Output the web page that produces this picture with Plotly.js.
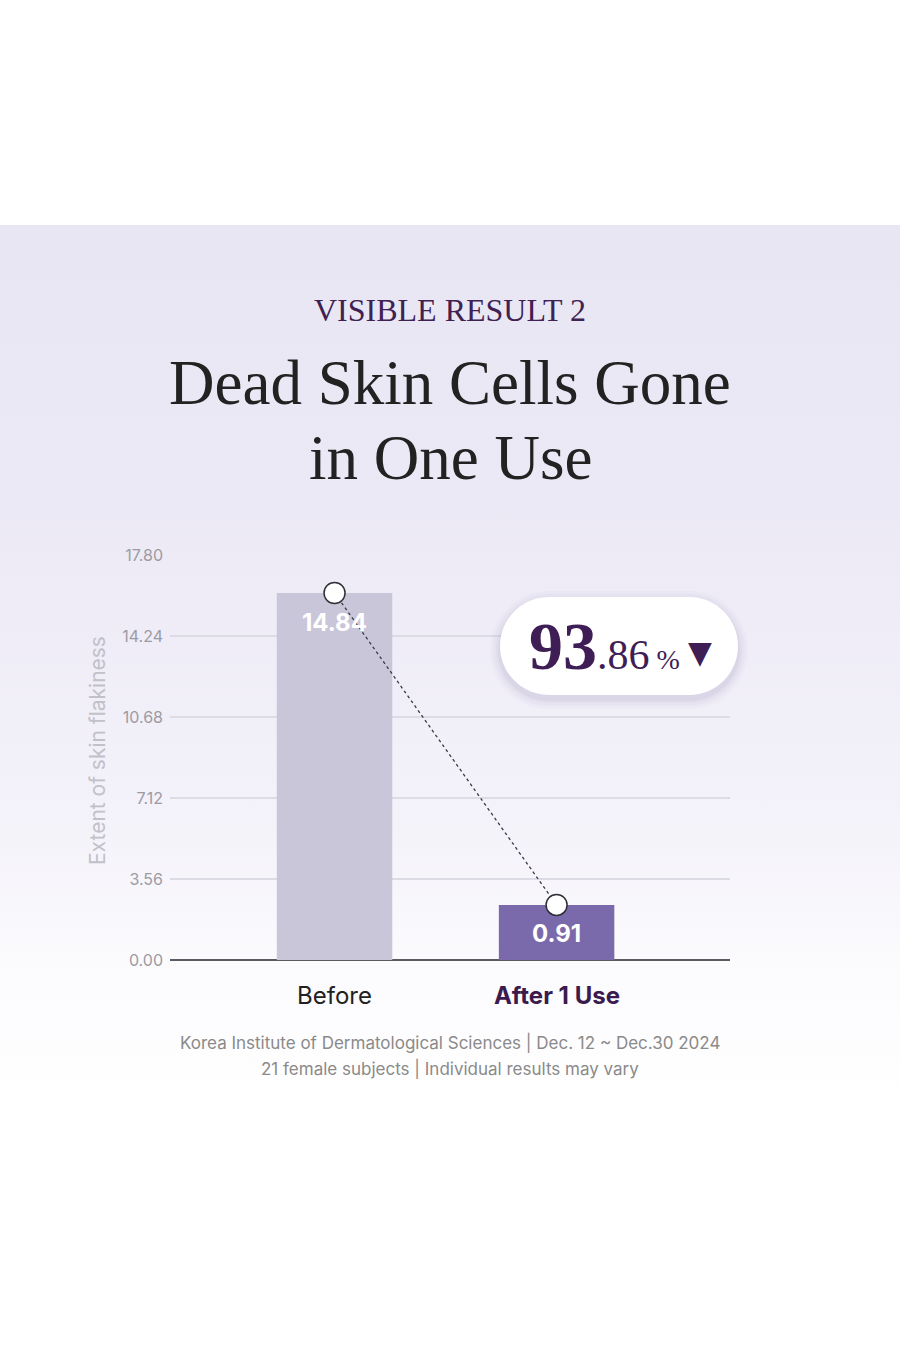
<!DOCTYPE html>
<html>
<head>
<meta charset="utf-8">
<script src="https://cdn.plot.ly/plotly-3.0.1.min.js"></script>
<style>
  html, body { margin: 0; padding: 0; }
  body {
    width: 900px; height: 1350px; overflow: hidden;
    background: linear-gradient(to bottom,
      #ffffff 0px, #ffffff 225px,
      #e9e6f4 225px, #ece9f6 500px, #f3f1f9 800px, #fbfafd 960px, #ffffff 1100px, #ffffff 1350px);
  }
  #chart { width: 900px; height: 1350px; }
</style>
</head>
<body>
<div id="chart"></div>
<script>
// ---- data ----
const categories = ["Before", "After 1 Use"];
const barHeights = [16.13, 2.42];          // bar heights as drawn in the picture
const valueLabels = ["14.84", "0.91"];     // values printed on the bars
const barColors = ["#c9c6da", "#7b6aab"];
const tickValues = [0, 3.56, 7.12, 10.68, 14.24, 17.80];
const tickLabels = ["0.00", "3.56", "7.12", "10.68", "14.24", "17.80"];
const reductionMain = "93";
const reductionDecimal = ".86";

// ---- layout helpers (plot area in px) ----
const W = 900, H = 1350;
const L = 170, R = 730, T = 555, B = 960;
const px2x = p => (p - L) / (R - L);
const px2y = p => (B - p) / (B - T);

function pillPath(x0, y0, x1, y1) {
  const r = (y1 - y0) / 2, k = 0.5523 * r;
  const P = (x, y) => px2x(x).toFixed(5) + "," + px2y(y).toFixed(5);
  let d = "M" + P(x0 + r, y0) + " L" + P(x1 - r, y0);
  d += " C" + P(x1 - r + k, y0) + " " + P(x1, y0 + r - k) + " " + P(x1, y0 + r);
  d += " C" + P(x1, y0 + r + k) + " " + P(x1 - r + k, y1) + " " + P(x1 - r, y1);
  d += " L" + P(x0 + r, y1);
  d += " C" + P(x0 + r - k, y1) + " " + P(x0, y0 + r + k) + " " + P(x0, y0 + r);
  d += " C" + P(x0, y0 + r - k) + " " + P(x0 + r - k, y0) + " " + P(x0 + r, y0) + " Z";
  return d;
}

const shapes = [];
// soft shadow of the badge
[[10, 0.025], [7, 0.03], [4, 0.04], [2, 0.05]].forEach(([g, op]) => {
  shapes.push({type: "path", xref: "paper", yref: "paper",
    path: pillPath(500 - g, 597 - g + 4, 738 + g, 695 + g + 4),
    fillcolor: "rgba(90,70,130," + op + ")", line: {width: 0}, layer: "above"});
});
shapes.push({type: "path", xref: "paper", yref: "paper",
  path: pillPath(500, 597, 738, 695), fillcolor: "#ffffff", line: {width: 0}, layer: "above"});

const traces = [
  {
    type: "bar", x: categories, y: barHeights, width: 0.52,
    marker: {color: barColors, line: {width: 0}},
    hoverinfo: "skip", showlegend: false
  },
  {
    type: "scatter", mode: "lines+markers", x: categories, y: barHeights,
    line: {color: "#3a3a44", width: 1.3, dash: "3px,3px"},
    marker: {size: 21, color: "#ffffff", line: {color: "#2f2f38", width: 1.5}},
    hoverinfo: "skip", showlegend: false, cliponaxis: false
  }
];

const annotations = [
  {xref: "paper", yref: "paper", x: 0.5, y: px2y(310), xanchor: "center", yanchor: "middle",
   text: "VISIBLE RESULT 2", showarrow: false,
   font: {family: "Liberation Serif, serif", size: 32, color: "#3f2152"}},
  {xref: "paper", yref: "paper", x: 0.5, y: px2y(383), xanchor: "center", yanchor: "middle",
   text: "Dead Skin Cells Gone", showarrow: false,
   font: {family: "Liberation Serif, serif", size: 63, color: "#222222"}},
  {xref: "paper", yref: "paper", x: 0.5, y: px2y(458), xanchor: "center", yanchor: "middle",
   text: "in One Use", showarrow: false,
   font: {family: "Liberation Serif, serif", size: 63, color: "#222222"}},
  {xref: "paper", yref: "paper", x: px2x(97), y: px2y(751), xanchor: "center", yanchor: "middle",
   text: "Extent of skin flakiness", textangle: -90, showarrow: false,
   font: {family: "Inter, sans-serif", size: 21, color: "#c2c0c8"}},
  {xref: "paper", yref: "paper", x: 0.5, y: px2y(1042), xanchor: "center", yanchor: "middle",
   text: "Korea Institute of Dermatological Sciences | Dec. 12 ~ Dec.30 2024", showarrow: false,
   font: {family: "Inter, sans-serif", size: 17, color: "#8a8a8a"}},
  {xref: "paper", yref: "paper", x: 0.5, y: px2y(1068), xanchor: "center", yanchor: "middle",
   text: "21 female subjects | Individual results may vary", showarrow: false,
   font: {family: "Inter, sans-serif", size: 17, color: "#8a8a8a"}},
  {xref: "paper", yref: "paper", x: px2x(604), y: px2y(646), xanchor: "center", yanchor: "middle",
   showarrow: false,
   text: "<b><span style='font-size:68px'>" + reductionMain + "</span></b><span style='font-size:42px'>" + reductionDecimal + "</span><span style='font-size:28px'> %</span>",
   font: {family: "Liberation Serif, serif", size: 42, color: "#3f1d55"}},
  {xref: "paper", yref: "paper", x: px2x(700), y: px2y(652), xanchor: "center", yanchor: "middle",
   showarrow: false, text: "▼",
   font: {family: "DejaVu Sans, sans-serif", size: 31, color: "#3f1d55"}}
];

const catColors = ["#222222", "#3b1a4d"];
categories.forEach((c, i) => {
  annotations.push({x: c, y: 0, xref: "x", yref: "y", yshift: -35, yanchor: "middle",
    showarrow: false, text: i === 1 ? "<b>" + c + "</b>" : c,
    font: {family: "Inter, sans-serif", size: 24, color: catColors[i]}});
  annotations.push({x: c, y: barHeights[i], xref: "x", yref: "y", yshift: -29, yanchor: "middle",
    showarrow: false, text: "<b>" + valueLabels[i] + "</b>",
    font: {family: "Inter, sans-serif", size: 24, color: "#ffffff"}});
});

const layout = {
  width: W, height: H,
  margin: {l: L, r: W - R, t: T, b: H - B, pad: 0},
  paper_bgcolor: "rgba(0,0,0,0)", plot_bgcolor: "rgba(0,0,0,0)",
  showlegend: false,
  xaxis: {type: "category", range: [-0.741, 1.781], showticklabels: false, showgrid: false,
          zeroline: false, showline: false, fixedrange: true},
  yaxis: {range: [0, 17.8], tickvals: tickValues, ticktext: tickLabels,
          tickfont: {family: "Inter, sans-serif", size: 16, color: "#9c9ba3"},
          ticks: "", ticklabelstandoff: 6,
          showgrid: true, gridcolor: "#dddbe4", gridwidth: 1.5,
          zeroline: true, zerolinecolor: "#5a5a60", zerolinewidth: 2,
          showline: false, fixedrange: true},
  shapes: shapes,
  annotations: annotations
};

Plotly.newPlot("chart", traces, layout, {displayModeBar: false, staticPlot: true});
</script>
</body>
</html>
